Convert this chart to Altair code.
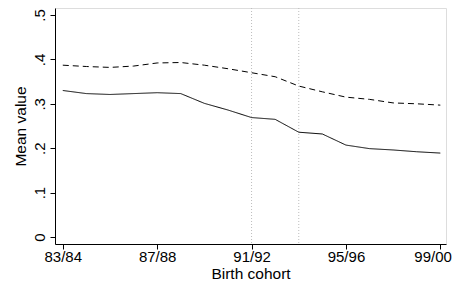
import altair as alt
import pandas as pd

cohorts = ["83/84","84/85","85/86","86/87","87/88","88/89","89/90","90/91","91/92",
           "92/93","93/94","94/95","95/96","96/97","97/98","98/99","99/00"]
solid = [0.330,0.323,0.321,0.323,0.325,0.323,0.301,0.286,0.269,0.265,0.236,0.232,0.207,0.199,0.196,0.192,0.189]
dashed = [0.387,0.384,0.382,0.385,0.392,0.393,0.387,0.379,0.370,0.361,0.340,0.327,0.315,0.310,0.302,0.300,0.297]
vlines = ["91/92","93/94"]
tick_labels = ["83/84","87/88","91/92","95/96","99/00"]

rows = []
for i, c in enumerate(cohorts):
    rows.append({"i": i, "cohort": c, "series": "a", "value": solid[i]})
    rows.append({"i": i, "cohort": c, "series": "b", "value": dashed[i]})
df = pd.DataFrame(rows)
vdf = pd.DataFrame({"i": [cohorts.index(v) for v in vlines]})

xscale = alt.Scale(domain=[-0.33, 16.24], nice=False, zero=False)
yscale = alt.Scale(domain=[-0.0158, 0.5158], nice=False, zero=False)

label_map = "{" + ",".join(f"'{cohorts.index(t)}':'{t}'" for t in tick_labels) + "}"

FONT = "Liberation Sans"
xaxis = alt.Axis(values=[cohorts.index(t) for t in tick_labels],
                 labelExpr=f"{label_map}[datum.value]",
                 title="Birth cohort", grid=False, tickSize=5, labelPadding=0,
                 labelFontSize=15, titleFontSize=15.5, titleFontWeight="normal",
                 titlePadding=2, domainColor="black", tickColor="black",
                 labelColor="black", titleColor="black", labelFont=FONT,
                 titleFont=FONT, labelFlush=6.5, labelFlushOffset=11, labelOverlap=False)
yaxis = alt.Axis(values=[0, 0.1, 0.2, 0.3, 0.4, 0.5],
                 labelExpr="datum.value == 0 ? '0' : replace(format(datum.value, '.1f'), '0.', '.')",
                 title="Mean value", grid=False, tickSize=5, labelAngle=270,
                 labelAlign="center", labelBaseline="bottom", labelPadding=3,
                 labelFontSize=15, titleFontSize=15.5, titleFontWeight="normal",
                 titlePadding=4, domainColor="black", tickColor="black",
                 labelColor="black", titleColor="black", labelFont=FONT,
                 titleFont=FONT, labelFlush=False, labelOverlap=False)

lines = alt.Chart(df).mark_line(color="black", strokeWidth=1).encode(
    x=alt.X("i:Q", scale=xscale, axis=xaxis),
    y=alt.Y("value:Q", scale=yscale, axis=yaxis),
    detail="series:N",
    strokeDash=alt.StrokeDash("series:N", scale=alt.Scale(domain=["a","b"], range=[[1,0],[6,4]]), legend=None),
)

rules = alt.Chart(vdf).mark_rule(color="#bdbdbd", strokeDash=[1,2], strokeWidth=1).encode(
    x=alt.X("i:Q", scale=xscale),
    y=alt.value(0),
    y2=alt.value(236),
)

chart = alt.layer(rules, lines).properties(
    width=391, height=236,
    autosize=alt.AutoSizeParams(type="none"),
    padding={"left": 47, "top": 0, "right": 6, "bottom": 42},
).configure_view(stroke=None).configure(background="white")

chart.save("out.html", embed_options={"renderer": "svg", "actions": False})
